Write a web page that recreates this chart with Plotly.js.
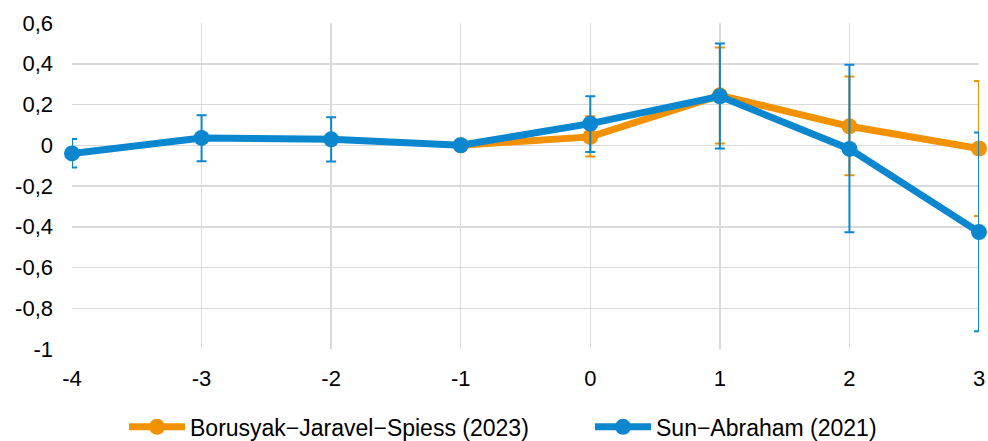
<!DOCTYPE html>
<html><head><meta charset="utf-8">
<script src="https://cdn.plot.ly/plotly-3.0.1.min.js"></script>
<style>body{margin:0;background:#fff}#chart{width:988px;height:441px}</style>
</head><body><div id="chart"></div>
<script>
const periods = [-4, -3, -2, -1, 0, 1, 2, 3];
const bjsValues = [null, null, null, 0, 0.041, 0.245, 0.093, -0.016];
const bjsUpper  = [null, null, null, 0, 0.142, 0.48, 0.338, 0.315];
const bjsLower  = [null, null, null, 0, -0.055, 0.008, -0.147, -0.347];
const saValues = [-0.04, 0.036, 0.029, 0, 0.106, 0.24, -0.018, -0.426];
const saUpper  = [0.031, 0.147, 0.138, 0, 0.24, 0.50, 0.395, 0.062];
const saLower  = [-0.109, -0.078, -0.08, 0, -0.033, -0.016, -0.427, -0.913];
const yTickVals = [-1, -0.8, -0.6, -0.4, -0.2, 0, 0.2, 0.4, 0.6];
const yTickText = ['-1', '-0,8', '-0,6', '-0,4', '-0,2', '0', '0,2', '0,4', '0,6'];

const orange = '#F39200', blue = '#0A87CF';
function errs(v, up, lo) {
  return {
    plus: v.map((d, i) => d == null ? null : up[i] - d),
    minus: v.map((d, i) => d == null ? null : d - lo[i])
  };
}
const eb = errs(bjsValues, bjsUpper, bjsLower);
const es = errs(saValues, saUpper, saLower);

const traces = [
  {x: periods, y: bjsValues, name: 'Borusyak\u2212Jaravel\u2212Spiess (2023)', type: 'scatter', mode: 'lines+markers',
   cliponaxis: false, legend: 'legend',
   line: {color: orange, width: 7}, marker: {color: orange, size: 16},
   error_y: {type: 'data', symmetric: false, array: eb.plus, arrayminus: eb.minus, color: orange, thickness: 2, width: 5}},
  {x: periods, y: saValues, name: 'Sun\u2212Abraham (2021)', type: 'scatter', mode: 'lines+markers',
   cliponaxis: false, legend: 'legend2',
   line: {color: blue, width: 7}, marker: {color: blue, size: 16},
   error_y: {type: 'data', symmetric: false, array: es.plus, arrayminus: es.minus, color: blue, thickness: 2, width: 5}}
];

const legendBase = {orientation: 'h', xref: 'container', yref: 'container', xanchor: 'left', yanchor: 'middle',
                    y: 0.032, font: {size: 23}, itemwidth: 56, bgcolor: 'rgba(0,0,0,0)'};
const layout = {
  width: 988, height: 441,
  margin: {l: 72, r: 9, t: 23, b: 92},
  paper_bgcolor: '#fff', plot_bgcolor: '#fff',
  font: {family: 'Liberation Sans, Arial, sans-serif', size: 22, color: '#000'},
  showlegend: true,
  legend: Object.assign({}, legendBase, {x: 124 / 988}),
  legend2: Object.assign({}, legendBase, {x: 590 / 988}),
  xaxis: {range: [-4, 3], tickvals: periods, ticktext: periods.map(String), showgrid: true, gridcolor: '#d9d9d9', gridwidth: 1.5,
          zeroline: false, showline: false, ticks: '', tickfont: {size: 22}, ticklabelstandoff: 14, automargin: false},
  yaxis: {range: [-1, 0.6], tickvals: yTickVals, ticktext: yTickText, showgrid: true, gridcolor: '#d9d9d9', gridwidth: 1.5,
          zeroline: false, showline: false, ticks: '', tickfont: {size: 22}, ticklabelstandoff: 18, automargin: false}
};
Plotly.newPlot('chart', traces, layout, {displayModeBar: false, staticPlot: true});
</script></body></html>
